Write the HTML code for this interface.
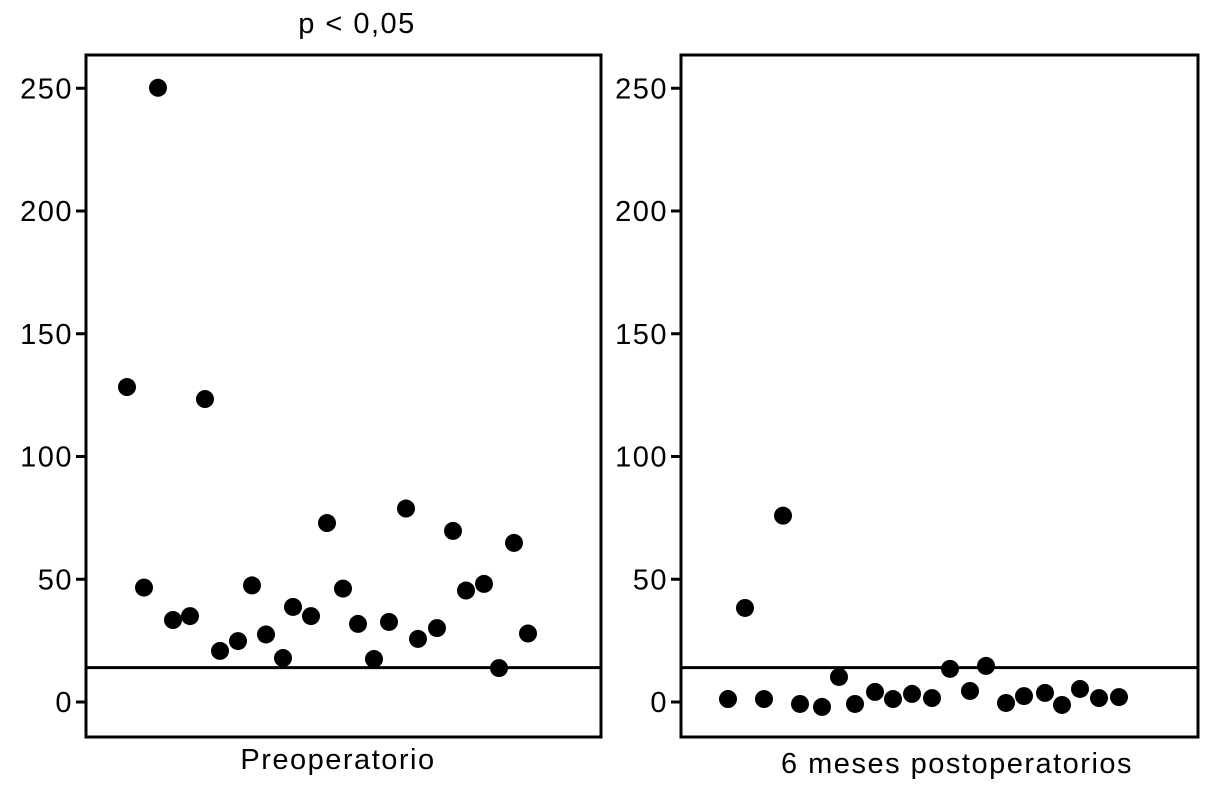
<!DOCTYPE html>
<html><head><meta charset="utf-8"><style>body{margin:0;background:#fff}svg{display:block;font-family:"Liberation Sans",sans-serif}text{letter-spacing:1.5px}</style></head>
<body>
<svg id="c" width="1214" height="790"></svg>
<script>
const ticks=[0,50,100,150,200,250];
const threshold=14;
const preX=[127,144,158,173,190,205,220,238,252,266,283,293,311,327,343,358,374,389,406,418,437,453,466,484,499,514,528];
const preVals=[128.3,46.6,250.2,33.4,35.0,123.4,20.8,24.8,47.5,27.5,17.9,38.7,35.0,72.9,46.2,31.8,17.5,32.6,78.8,25.7,30.1,69.7,45.4,48.1,13.8,64.8,27.9];
const postX=[728,745,764,783,800,822,839,855,875,893,912,932,950,970,986,1006,1024,1045,1062,1080,1099,1119];
const postVals=[1.2,38.3,1.2,75.9,-0.8,-2.0,10.2,-0.8,4.1,1.2,3.3,1.6,13.5,4.5,14.7,-0.4,2.4,3.7,-1.2,5.3,1.6,2.0];
const svg=document.getElementById('c');const NS='http://www.w3.org/2000/svg';
function mk(t,a,p){const e=document.createElementNS(NS,t);for(const k in a)e.setAttribute(k,a[k]);(p||svg).appendChild(e);return e;}
function y(v){return 702-v*2.455;}
function panel(x0,x1,xs,vals,label,lx,ly,name){
  const g=mk('g',{});
  
  
  const r=mk('rect',{x:x0,y:55,width:x1-x0,height:682,fill:'none',stroke:'#000','stroke-width':3},g);
  
  
  ticks.forEach(t=>{
    const l=mk('line',{x1:x0-10,x2:x0,y1:y(t),y2:y(t),stroke:'#000','stroke-width':3},g);
    
    
    const tx=mk('text',{x:x0-13,y:y(t)+10,'text-anchor':'end','font-size':29},g);
    tx.textContent=t;
    
    
  });
  const h=mk('line',{x1:x0,x2:x1,y1:y(threshold),y2:y(threshold),stroke:'#000','stroke-width':3},g);
  
  
  vals.forEach((v,i)=>{
    const c=mk('circle',{cx:xs[i],cy:y(v),r:9,fill:'#000'},g);
    
    
  });
  const t=mk('text',{x:lx,y:ly,'text-anchor':'middle','font-size':29},g);
  t.textContent=label;
  
  
}
panel(86,601,preX,preVals,'Preoperatorio',338,769,'preoperative-panel');
panel(681,1198,postX,postVals,'6 meses postoperatorios',957,773,'postoperative-panel');
const tt=mk('text',{x:357,y:33,'text-anchor':'middle','font-size':29});
tt.textContent='p < 0,05';


</script>
</body></html>
